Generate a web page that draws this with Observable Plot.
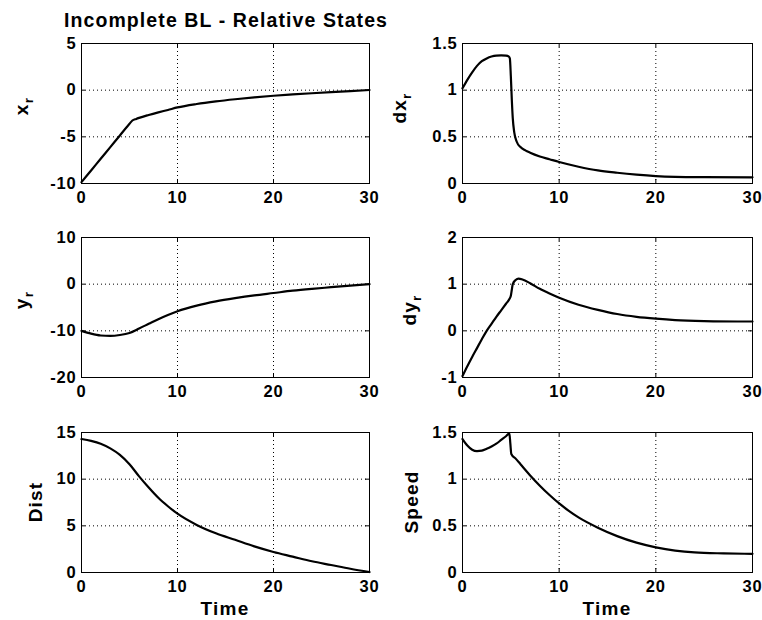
<!DOCTYPE html>
<html><head><meta charset="utf-8">
<script src="https://cdn.jsdelivr.net/npm/d3@7"></script>
<script src="https://cdn.jsdelivr.net/npm/@observablehq/plot@0.6"></script>
<style>
body{margin:0;background:#fff;}
#chart{position:relative;width:762px;height:620px;background:#fff;font-family:"Liberation Sans",Arial,sans-serif;overflow:hidden;}
#chart svg{position:absolute;}
#title{position:absolute;left:0;width:452px;top:11px;text-align:center;font-weight:bold;font-size:19.5px;line-height:1;letter-spacing:1.1px;color:#000;z-index:2;}
</style></head><body>
<div id="chart"><div id="title">Incomplete BL - Relative States</div></div>
<script>
// ---- data ----
const xTicks = [0, 10, 20, 30];

const tXr = [0,1,2,3,4,5,5.3,5.7,6,7,8,9,10,12,14,16,18,20,22,24,26,28,30];
const xr  = [-9.85,-8.6,-7.35,-6.1,-4.85,-3.6,-3.25,-3.08,-2.97,-2.66,-2.38,-2.12,-1.85,-1.48,-1.2,-0.97,-0.77,-0.6,-0.46,-0.33,-0.21,-0.1,0.02];
const xrTicks = [-10,-5,0,5];

const tDxr = [0,0.5,1,1.5,2,2.5,3,3.5,4,4.5,4.8,4.9,5.0,5.1,5.2,5.35,5.6,6.0,6.5,7,8,9,10,12,14,16,18,20,22,25,30];
const dxr  = [1.02,1.11,1.19,1.26,1.31,1.34,1.36,1.37,1.372,1.37,1.36,1.34,1.15,0.9,0.7,0.55,0.45,0.39,0.355,0.33,0.29,0.26,0.23,0.18,0.14,0.115,0.095,0.08,0.072,0.068,0.066];
const dxrTicks = [0,0.5,1,1.5];

const tYr = [0,1,2,3,4,5,6,7,8,9,10,12,14,16,18,20,22,24,26,28,30];
const yr  = [-10.0,-10.6,-11.0,-11.1,-10.9,-10.45,-9.5,-8.5,-7.5,-6.6,-5.8,-4.6,-3.7,-3.0,-2.4,-1.9,-1.4,-1.0,-0.65,-0.3,0.0];
const yrTicks = [-20,-10,0,10];

const tDyr = [0,0.5,1,1.5,2,2.5,3,3.5,4,4.5,4.85,5.0,5.1,5.2,5.5,5.8,6.2,7,8,9,10,12,14,16,18,20,22,25,30];
const dyr  = [-0.97,-0.76,-0.56,-0.37,-0.18,0.0,0.15,0.3,0.44,0.58,0.68,0.75,0.88,1.0,1.09,1.12,1.1,1.02,0.9,0.8,0.71,0.56,0.45,0.36,0.3,0.26,0.23,0.21,0.2];
const dyrTicks = [-1,0,1,2];

const tDist = [0,1,2,3,4,5,6,7,8,9,10,12,14,16,18,20,22,24,26,28,30];
const dist  = [14.3,14.1,13.8,13.3,12.6,11.6,10.3,9.1,8.0,7.1,6.3,5.1,4.2,3.5,2.8,2.2,1.7,1.2,0.8,0.4,0.05];
const distTicks = [0,5,10,15];

const tSpeed = [0,0.5,1,1.5,2,2.5,3,3.5,4,4.5,4.85,4.95,5.05,5.5,6,7,8,9,10,11,12,14,16,18,20,22,24,27,30];
const speed  = [1.43,1.36,1.315,1.30,1.305,1.325,1.35,1.38,1.42,1.46,1.49,1.38,1.27,1.22,1.16,1.04,0.93,0.83,0.74,0.66,0.59,0.48,0.39,0.32,0.27,0.235,0.215,0.205,0.2];
const speedTicks = [0,0.5,1,1.5];

// ---- layout ----
const rows = [
  {top: 0,   mt: 43, mb: 24},
  {top: 207, mt: 30, mb: 25},
  {top: 402, mt: 30, mb: 48}
];
const cols = [{left: 0, mr: 12}, {left: 381, mr: 10}];
const plotH = 140;

const panels = [
  {row:0,col:0,t:tXr,v:xr,domain:[-10,5],ticks:xrTicks,main:"x",sub:"r",lx:28,ly:106},
  {row:0,col:1,t:tDxr,v:dxr,domain:[0,1.5],ticks:dxrTicks,main:"dx",sub:"r",lx:406,ly:108},
  {row:1,col:0,t:tYr,v:yr,domain:[-20,10],ticks:yrTicks,main:"y",sub:"r",lx:28,ly:300},
  {row:1,col:1,t:tDyr,v:dyr,domain:[-1,2],ticks:dyrTicks,main:"dy",sub:"r",lx:416,ly:310},
  {row:2,col:0,t:tDist,v:dist,domain:[0,15],ticks:distTicks,main:"Dist",sub:null,lx:41.5,ly:502,xlabel:"Time"},
  {row:2,col:1,t:tSpeed,v:speed,domain:[0,1.5],ticks:speedTicks,main:"Speed",sub:null,lx:418,ly:502,xlabel:"Time"}
];

const chart = document.getElementById("chart");
const fmt = d => String(d);
const dotted = {stroke: "black", strokeOpacity: 1, strokeWidth: 1, strokeDasharray: "1,3"};

for (const p of panels) {
  const r = rows[p.row], c = cols[p.col];
  const W = 381, H = r.mt + plotH + r.mb;
  const innerW = W - 81 - c.mr;
  const data = p.t.map((t, i) => ({t, v: p.v[i]}));
  const svg = Plot.plot({
    width: W, height: H,
    marginLeft: 81, marginRight: c.mr, marginTop: r.mt, marginBottom: r.mb,
    style: {fontFamily: "Liberation Sans, Arial, sans-serif", fontSize: "16.5px", fontWeight: "bold", letterSpacing: "0.8px", color: "black", background: "transparent", overflow: "visible"},
    x: {domain: [0, 30], label: null},
    y: {domain: p.domain, label: null},
    marks: [
      Plot.gridX(xTicks.slice(1, -1), dotted),
      Plot.gridY(p.ticks.slice(1, -1), dotted),
      Plot.line(data, {x: "t", y: "v", stroke: "black", strokeWidth: 2.2, curve: "monotone-x"}),
      Plot.ruleX(xTicks, {x: d => d, stroke: "black", insetTop: plotH - 4}),
      Plot.ruleX(xTicks, {x: d => d, stroke: "black", insetBottom: plotH - 4}),
      Plot.ruleY(p.ticks, {y: d => d, stroke: "black", insetRight: innerW - 4}),
      Plot.ruleY(p.ticks, {y: d => d, stroke: "black", insetLeft: innerW - 4}),
      Plot.frame({stroke: "black", strokeWidth: 1}),
      Plot.axisX(xTicks, {tickSize: 0, tickPadding: 8, tickFormat: fmt, label: null}),
      Plot.axisY(p.ticks, {tickSize: 0, tickPadding: 5, tickFormat: fmt, label: null})
    ]
  });
  svg.style.left = c.left + "px";
  svg.style.top = r.top + "px";
  const s = d3.select(svg);
  const lab = s.append("text")
    .attr("transform", `translate(${p.lx - c.left},${p.ly - r.top}) rotate(-90)`)
    .attr("text-anchor", "middle")
    .attr("fill", "black")
    .style("font-size", "19px")
    .style("font-weight", "bold")
    .style("letter-spacing", "1.2px");
  lab.append("tspan").text(p.main);
  if (p.sub) lab.append("tspan").attr("dy", 5).style("font-size", "13.5px").text(p.sub);
  if (p.xlabel) {
    s.append("text")
      .attr("x", 81 + innerW / 2)
      .attr("y", 213)
      .attr("text-anchor", "middle")
      .attr("fill", "black")
      .style("font-size", "19px")
      .style("font-weight", "bold")
      .style("letter-spacing", "1.2px")
      .text(p.xlabel);
  }
  chart.appendChild(svg);
}
</script>
</body></html>
